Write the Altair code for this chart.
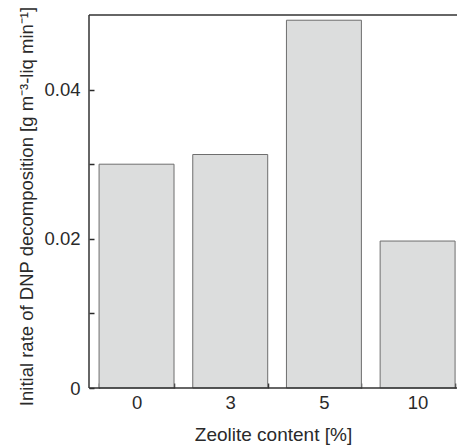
import altair as alt
import pandas as pd

categories = ["0", "3", "5", "10"]
rates = [0.0300, 0.0313, 0.0493, 0.0197]
y_ticks = [0, 0.01, 0.02, 0.03, 0.04]
y_top = 0.05

df = pd.DataFrame({"zeolite": categories, "rate": rates})
one = pd.DataFrame({"k": [0]})

FONT = "Liberation Sans"
INK = "#2a2a2a"
W, H = 368, 373

y_label_expr = (
    "indexof([0, 2, 4], round(datum.value * 100)) >= 0 ? "
    "(datum.value == 0 ? '0' : format(datum.value, '.2f')) : ''"
)

yscale = alt.Scale(domain=[0, y_top], nice=False)

bars = (
    alt.Chart(df)
    .mark_bar(fill="#dcdddd", stroke="#6e6e6e", strokeWidth=1)
    .encode(
        x=alt.X(
            "zeolite:N",
            sort=categories,
            title="Zeolite content [%]",
            scale=alt.Scale(paddingInner=0.2, paddingOuter=0.064, align=0.84),
            axis=alt.Axis(
                labelAngle=0,
                domain=False,
                grid=False,
                offset=-5,
                tickSize=5,
                tickBand="extent",
                tickColor=INK,
                tickWidth=1.5,
                labelFont=FONT,
                labelFontSize=18.5,
                labelColor=INK,
                labelPadding=5,
                titleFont=FONT,
                titleFontSize=19,
                titleFontWeight="normal",
                titleColor=INK,
                titlePadding=14,
            ),
        ),
        y=alt.Y(
            "rate:Q",
            scale=yscale,
            title="Initial rate of DNP decomposition [g m⁻³-liq min⁻¹]",
            axis=alt.Axis(
                values=y_ticks,
                labelExpr=y_label_expr,
                labelOverlap=False,
                domain=False,
                grid=False,
                offset=-5,
                tickSize=5,
                tickColor=INK,
                tickWidth=1.5,
                labelFont=FONT,
                labelFontSize=18.5,
                labelColor=INK,
                labelPadding=9,
                titleFont=FONT,
                titleFontSize=18.5,
                titleFontWeight="normal",
                titleColor=INK,
                titlePadding=7,
                titleY=191,
            ),
        ),
    )
)

frame_style = dict(color="#333333", strokeWidth=1.5)

left_line = alt.Chart(one).mark_rule(**frame_style).encode(
    x=alt.value(0),
    y=alt.Y(datum=0, scale=yscale),
    y2=alt.Y2(datum=y_top),
)
top_line = alt.Chart(one).mark_rule(**frame_style).encode(
    x=alt.value(0), x2=alt.value(W), y=alt.Y(datum=y_top, scale=yscale)
)
bottom_line = alt.Chart(one).mark_rule(**frame_style).encode(
    x=alt.value(0), x2=alt.value(W), y=alt.Y(datum=0, scale=yscale)
)

chart = (
    alt.layer(bars, left_line, top_line, bottom_line)
    .properties(
        width=W,
        height=H,
        padding={"left": 89, "top": 15, "right": 0, "bottom": 58},
        autosize="none",
        background="white",
    )
    .configure_view(stroke=None)
)

chart.save("out.html", embed_options={"renderer": "svg", "actions": False})
